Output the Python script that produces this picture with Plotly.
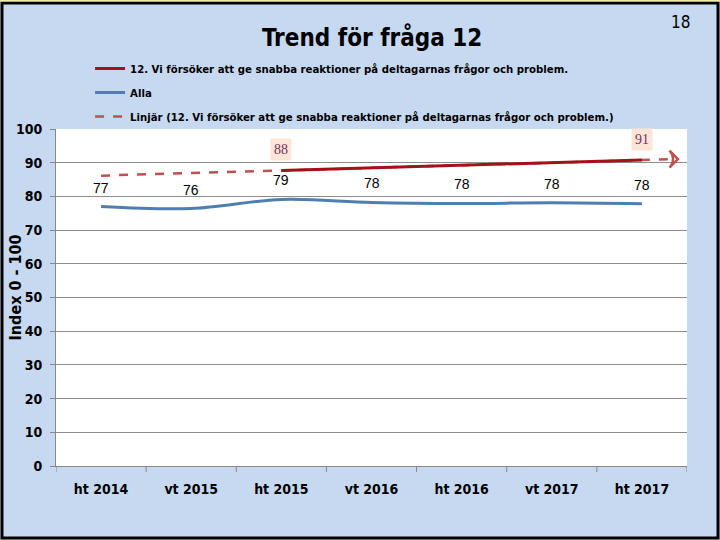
import numpy as np
import plotly.graph_objects as go

periods = ["ht 2014", "vt 2015", "ht 2015", "vt 2016", "ht 2016", "vt 2017", "ht 2017"]
q12_values = [None, None, 87.7, 88.5, 89.2, 90.0, 90.8]
alla_values = [77.0, 76.4, 79.1, 78.2, 77.9, 78.1, 77.8]
alla_labels = ["77", "76", "79", "78", "78", "78", "78"]
q12_labels = {2: "88", 6: "91"}
trend_forward = 0.4

q12_name = "12. Vi försöker att ge snabba reaktioner på deltagarnas frågor och problem."
alla_name = "Alla"
trend_name = "Linjär (12. Vi försöker att ge snabba reaktioner på deltagarnas frågor och problem.)"

xs = list(range(len(periods)))
fit_x = [i for i, v in enumerate(q12_values) if v is not None]
fit_y = [q12_values[i] for i in fit_x]
slope, intercept = np.polyfit(fit_x, fit_y, 1)
trend_x = [0, len(periods) - 1 + trend_forward]
trend_y = [intercept + slope * t for t in trend_x]

FONT = "DejaVu Sans Condensed, Liberation Sans Narrow, sans-serif"
RED = "#a3111a"
TREND = "#c0504d"
BLUE = "#4f7fb0"

L, R, T, B = 56, 33, 129, 74
PW, PH = 720 - L - R, 540 - T - B

fig = go.Figure()
fig.add_trace(go.Scatter(x=xs, y=alla_values, mode="lines", name=alla_name, legendgroup="b",
                         line=dict(color=BLUE, width=3, shape="spline"), legendrank=2))
fig.add_trace(go.Scatter(x=trend_x, y=trend_y, mode="lines", name=trend_name, legendgroup="c",
                         line=dict(color=TREND, width=2.5, dash="dash"), legendrank=3))
fig.add_trace(go.Scatter(x=[trend_x[-1]], y=[trend_y[-1]], mode="markers", showlegend=False,
                         marker=dict(symbol="arrow-wide-open", angle=90, size=12, color=TREND,
                                     line=dict(width=2.5, color=TREND)), hoverinfo="skip"))
fig.add_trace(go.Scatter(x=xs, y=q12_values, mode="lines", name=q12_name, legendgroup="a",
                         line=dict(color=RED, width=3), legendrank=1))

for i, v in enumerate(alla_values):
    fig.add_annotation(x=i, y=v, text=alla_labels[i], showarrow=False, yshift=19,
                       font=dict(family="Liberation Sans, Arial, sans-serif", size=14, color="black"))
for i, t in q12_labels.items():
    fig.add_annotation(x=i, y=q12_values[i], text=t, showarrow=False, yshift=21,
                       bgcolor="#fbe5d6", borderpad=3,
                       font=dict(family="Liberation Serif, serif", size=14, color="#7a3060"))

fig.add_annotation(xref="paper", yref="paper", x=0.5, y=1, yshift=92, text="<b>Trend för fråga 12</b>",
                   showarrow=False, xanchor="center", yanchor="middle",
                   font=dict(family=FONT, size=24, color="black"))
fig.add_annotation(xref="paper", yref="paper", x=1, xshift=5, y=1, yshift=107, text="18",
                   showarrow=False, xanchor="right", yanchor="middle",
                   font=dict(family=FONT, size=17, color="black"))
fig.add_annotation(xref="paper", yref="paper", x=0, xshift=-41, y=0.5, yshift=10,
                   text="<b>Index 0 - 100</b>", textangle=-90, showarrow=False,
                   xanchor="center", yanchor="middle",
                   font=dict(family=FONT, size=16, color="black"))

# outer frame
fig.add_shape(type="rect", xref="paper", yref="paper",
              x0=-(L - 2) / PW, x1=1 + (R - 2) / PW, y0=-(B - 2) / PH, y1=1 + (T - 3) / PH,
              line=dict(color="black", width=3), layer="below")
fig.add_shape(type="line", xref="paper", yref="paper",
              x0=-L / PW, x1=1 + R / PW, y0=1 + (T - 0.5) / PH, y1=1 + (T - 0.5) / PH,
              line=dict(color="#f3e9a6", width=2), layer="below")

fig.update_layout(
    width=720, height=540,
    margin=dict(l=L, r=R, t=T, b=B, autoexpand=False),
    paper_bgcolor="#c6d9f0", plot_bgcolor="white",
    showlegend=True,
    legend=dict(x=0.054, y=1 + 75 / PH, xanchor="left", yanchor="top",
                bgcolor="rgba(0,0,0,0)",
                font=dict(family=FONT, size=11.3, color="black", weight="bold"),
                tracegroupgap=5, itemwidth=30),
    xaxis=dict(range=[-0.5, 6.5], tickmode="array", tickvals=xs,
               ticktext=[f"<b>{p}</b>" for p in periods],
               tickfont=dict(family=FONT, size=14, color="black"),
               showgrid=False, showline=True, linecolor="#888888", linewidth=1,
               zeroline=False, ticks="", fixedrange=True, automargin=False,
               ticklabelstandoff=10),
    yaxis=dict(range=[0, 100], tickmode="array", tickvals=list(range(0, 101, 10)),
               ticktext=[f"<b>{v}</b>" for v in range(0, 101, 10)],
               tickfont=dict(family=FONT, size=14, color="black"),
               showgrid=True, gridcolor="#8c8c8c", gridwidth=1,
               showline=True, linecolor="#888888", linewidth=1, zeroline=False,
               ticks="outside", ticklen=5, tickcolor="#888888", automargin=False,
               ticklabelstandoff=5, fixedrange=True),
)

# category boundary tick marks on x axis
for b in np.arange(-0.5, 6.51, 1.0):
    fig.add_shape(type="line", xref="x", yref="paper", x0=b, x1=b, y0=0, y1=-6 / PH,
                  line=dict(color="#888888", width=1))

fig.write_html("out.html", config={"displayModeBar": False},
               post_script="document.body.style.margin='0';document.body.style.overflow='hidden';")
